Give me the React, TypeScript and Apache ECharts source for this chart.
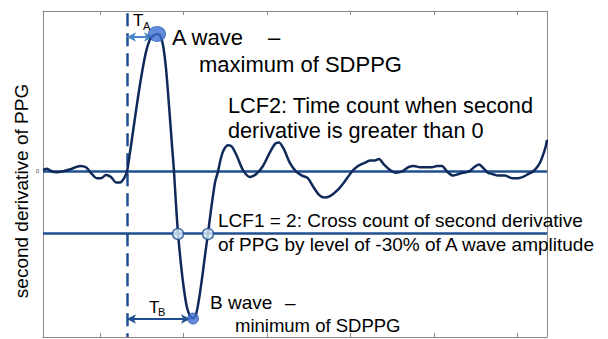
import React, { useEffect, useRef } from "react";
import * as echarts from "echarts";

// SDPPG trace: [time sample, amplitude relative to A wave]
const sdppgTrace: [number, number][] = [
  [0, 0.01], [4, 0.02], [9, 0.0], [14, -0.005], [19, 0.0], [24, 0.01], [29, 0.02], [37, 0.04],
  [43, 0.03], [49, -0.02], [54, -0.05], [58, -0.05], [63, -0.025], [68, -0.04], [73, -0.08],
  [77, -0.08], [81, -0.05], [84, 0.0], [87, 0.14], [91, 0.34], [95, 0.54], [99, 0.72],
  [103, 0.87], [107, 0.96], [111, 0.99], [114, 1.0], [117, 0.99], [120, 0.92], [123, 0.75],
  [126, 0.48], [129, 0.19], [131, 0.0], [133, -0.24], [135, -0.45], [138, -0.68], [141, -0.86],
  [144, -0.99], [147, -1.05], [150, -1.07], [153, -1.04], [156, -0.93], [159, -0.78],
  [162, -0.61], [165, -0.45], [168, -0.28], [172, -0.08], [175, 0.0], [178, 0.1], [181, 0.16],
  [185, 0.19], [189, 0.18], [194, 0.11], [200, 0.01], [207, -0.04], [213, -0.02], [220, 0.04],
  [227, 0.14], [232, 0.2], [236, 0.21], [241, 0.16], [247, 0.06], [253, 0.0], [259, -0.03],
  [265, -0.05], [271, -0.12], [276, -0.17], [281, -0.19], [287, -0.18], [294, -0.14],
  [301, -0.08], [309, 0.0], [315, 0.04], [321, 0.06], [327, 0.08], [332, 0.08], [336, 0.09],
  [341, 0.05], [347, 0.01], [353, -0.01], [359, 0.0], [365, 0.03], [371, 0.04], [377, 0.03],
  [383, 0.03], [389, 0.03], [394, 0.04], [399, 0.04], [404, 0.0], [410, -0.03], [415, -0.02],
  [420, -0.01], [426, 0.0], [431, 0.03], [436, 0.05], [441, 0.02], [445, -0.01], [450, -0.02],
  [455, -0.03], [462, -0.03], [469, -0.05], [475, -0.05], [480, -0.04], [485, -0.02],
  [490, 0.0], [495, 0.04], [498, 0.08], [501, 0.14], [503, 0.19], [504, 0.23],
];

const aWave: [number, number] = [114, 1.0];
const bWave: [number, number] = [150, -1.07];
const lcf1Level = -0.4545;
const lcf1Crossings: [number, number][] = [[135, lcf1Level], [165, lcf1Level]];
const onsetTime = 84;
const taArrow = { from: 84, to: 110, level: 0.978 };
const tbArrow = { from: 84, to: 147, level: -1.073 };
const xTickValues = [57, 140.5, 224, 307.5, 391, 474.5];
const yTickValues = [0];

const FONT = "Liberation Sans, Arial, sans-serif";
const CURVE = "#0f2a5a";
const LINE = "#1f4f8e";
const FRAME = "#8a8a8a";

export default function App() {
  const ref = useRef<HTMLDivElement>(null);
  useEffect(() => {
    if (!ref.current) return;
    const chart = echarts.init(ref.current, null, { renderer: "svg" });
    const frameAxisX = (pos: "top" | "bottom") => ({
      type: "value",
      position: pos,
      min: 0,
      max: 504,
      axisLine: { show: true, onZero: false, lineStyle: { color: FRAME, width: 1 } },
      axisTick: { show: true, inside: true, length: 4, customValues: xTickValues, lineStyle: { color: FRAME } },
      axisLabel: { show: false },
      splitLine: { show: false },
    });
    const text = (t: string, x: number, y: number, size: number, extra: any = {}) => ({
      type: "text",
      x,
      y,
      style: {
        text: t,
        fill: "#000",
        font: `${size}px ${FONT}`,
        verticalAlign: "middle",
        align: "left",
        ...extra,
      },
      z: 100,
    });
    chart.setOption({
      animation: false,
      grid: { left: 43, top: 11, right: 61, bottom: 2 },
      xAxis: [frameAxisX("bottom"), frameAxisX("top")],
      yAxis: [
        {
          type: "value",
          position: "left",
          min: -1.204,
          max: 1.167,
          axisLine: { show: true, onZero: false, lineStyle: { color: FRAME, width: 1 } },
          axisTick: { show: false },
          axisLabel: { show: true, customValues: yTickValues, fontSize: 6, color: "#444", margin: 4, fontFamily: FONT },
          splitLine: { show: false },
        },
        {
          type: "value",
          position: "right",
          min: -1.204,
          max: 1.167,
          axisLine: { show: true, onZero: false, lineStyle: { color: FRAME, width: 1 } },
          axisTick: { show: false },
          axisLabel: { show: false },
          splitLine: { show: false },
        },
      ],
      series: [
        {
          type: "line",
          data: [],
          markLine: {
            silent: true,
            symbol: ["none", "none"],
            label: { show: false },
            lineStyle: { color: LINE, width: 2.5, type: "solid" },
            data: [{ yAxis: 0 }, { yAxis: lcf1Level }],
          },
        },
        {
          type: "line",
          data: [],
          markLine: {
            silent: true,
            symbol: ["none", "none"],
            label: { show: false },
            lineStyle: { color: LINE, width: 2.5, type: [13, 7] },
            data: [[{ coord: [onsetTime, 1.15] }, { coord: [onsetTime, -1.204] }]],
          },
        },
        {
          type: "line",
          data: sdppgTrace,
          smooth: 0.25,
          showSymbol: false,
          lineStyle: { color: CURVE, width: 2.5 },
          z: 5,
        },
        {
          type: "line",
          data: [],
          markLine: {
            silent: true,
            symbol: ["arrow", "arrow"],
            symbolSize: [7, 9],
            label: { show: false },
            data: [
              [
                { coord: [taArrow.from, taArrow.level], lineStyle: { color: "#4a86c8", width: 2, type: "solid" }, itemStyle: { color: "#4a86c8" } },
                { coord: [taArrow.to, taArrow.level] },
              ],
              [
                { coord: [tbArrow.from, tbArrow.level], lineStyle: { color: LINE, width: 2, type: "solid" }, itemStyle: { color: LINE } },
                { coord: [tbArrow.to, tbArrow.level] },
              ],
            ],
          },
          z: 6,
        },
        {
          type: "scatter",
          data: [aWave],
          symbolSize: [17, 15],
          itemStyle: { color: "#3d6fd1", borderColor: "#2f5bb0", borderWidth: 1 },
          z: 10,
        },
        {
          type: "scatter",
          data: [bWave],
          symbolSize: 11,
          itemStyle: { color: "#3d6fd1", borderColor: "#2f5bb0", borderWidth: 1 },
          z: 10,
        },
        {
          type: "scatter",
          data: lcf1Crossings,
          symbolSize: 11,
          itemStyle: { color: "#d9eefb", borderColor: LINE, borderWidth: 1.5 },
          z: 10,
        },
      ],
      graphic: [
        { ...text("second derivative of PPG", 21, 191, 19, { align: "center" }), rotation: Math.PI / 2 },
        text("T", 133, 20, 17),
        text("A", 143, 26, 11),
        text("A wave", 172, 37, 22),
        text("–", 268, 37, 22),
        text("maximum of SDPPG", 199, 64, 22),
        text("LCF2: Time count when second", 228, 105, 21.7),
        text("derivative is greater than 0", 228, 130, 21.7),
        text("LCF1 = 2: Cross count of second derivative", 218, 220, 19),
        text("of PPG by level of -30% of A wave amplitude", 218, 244, 19),
        text("T", 149, 307, 17),
        text("B", 158, 312, 11),
        text("B wave", 210, 302, 19),
        text("–", 285, 302, 19),
        text("minimum of SDPPG", 235, 325, 18.5),
      ],
    });
    return () => chart.dispose();
  }, []);
  return (
    <div
      ref={ref}
      style={{ position: "fixed", left: 0, top: 0, width: 608, height: 339, background: "#fff" }}
    />
  );
}
